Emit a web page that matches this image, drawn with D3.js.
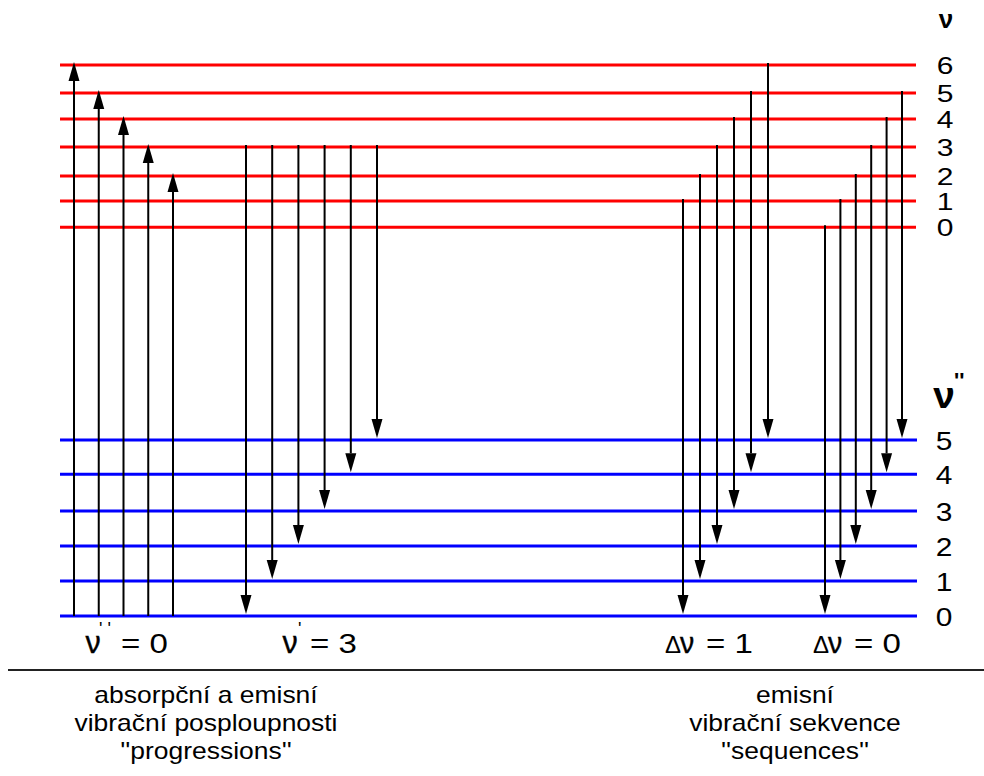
<!DOCTYPE html>
<html>
<head>
<meta charset="utf-8">
<script src="https://cdn.jsdelivr.net/npm/d3@7"></script>
<style>
  body { margin: 0; background: #fff; }
  text { font-family: "Liberation Sans", Arial, sans-serif; fill: #000; }
</style>
</head>
<body>
<script>
// vibrational levels, energy in arbitrary units
var upperLevels = [0, 1, 2, 3, 4, 5, 6];
var upperEnergy = [11.11, 11.86, 12.57, 13.40, 14.20, 14.94, 15.74];
var lowerLevels = [0, 1, 2, 3, 4, 5];
var lowerEnergy = [0, 1.0, 2.0, 3.0, 4.05, 5.03];

// transitions [v', v'']
var absorption = [[6, 0], [5, 0], [4, 0], [3, 0], [2, 0]];
var progression = [[3, 0], [3, 1], [3, 2], [3, 3], [3, 4], [3, 5]];
var seqDelta1 = [[1, 0], [2, 1], [3, 2], [4, 3], [5, 4], [6, 5]];
var seqDelta0 = [[0, 0], [1, 1], [2, 2], [3, 3], [4, 4], [5, 5]];

var captionLeft = ["absorpční a emisní", "vibrační posploupnosti", "''progressions''"];
var captionRight = ["emisní", "vibrační sekvence", "''sequences''"];

var width = 984, height = 776;

var svg = d3.select('body').append('svg')
	.attr('width', width)
	.attr('height', height);

var y = d3.scaleLinear().domain([0, 16]).range([616, 56]);
var yUp = function (v) { return y(upperEnergy[upperLevels.indexOf(v)]); };
var yLo = function (v) { return y(lowerEnergy[lowerLevels.indexOf(v)]); };

var x0 = 60, x1 = 916;

// level lines
svg.selectAll('.upper')
	.data(upperLevels)
	.enter().append('line')
	.attr('x1', x0).attr('x2', x1)
	.attr('y1', yUp).attr('y2', yUp)
	.attr('stroke', '#ff0000').attr('stroke-width', 3);

svg.selectAll('.lower')
	.data(lowerLevels)
	.enter().append('line')
	.attr('x1', x0).attr('x2', x1 + 1)
	.attr('y1', yLo).attr('y2', yLo)
	.attr('stroke', '#0000ff').attr('stroke-width', 3);

function txt(g, x, yy, s, size, sx, anchor, weight) {
	return g.append('text')
		.attr('transform', 'translate(' + x + ',' + yy + ') scale(' + sx + ',1)')
		.attr('font-size', size)
		.attr('font-weight', weight || 'normal')
		.attr('text-anchor', anchor || 'start')
		.text(s);
}

// level numbers
upperLevels.forEach(function (v) { txt(svg, 945, yUp(v) + 9, v, 24, 1.25, 'middle'); });
lowerLevels.forEach(function (v) { txt(svg, 944, yLo(v) + 10, v, 26, 1.15, 'middle'); });

txt(svg, 946, 28, 'ν', 26, 1, 'middle', 'bold');
txt(svg, 944, 408, 'ν', 37, 1.05, 'middle', 'bold');
txt(svg, 954, 388, "''", 22, 1, 'start', 'bold');

// arrows
var headLen = 19, headW = 5.5;

function drawArrows(data, xs, up) {
	var g = svg.append('g');
	data.forEach(function (d) {
		var xx = xs(up ? d[0] : d[1]);
		var top = yUp(d[0]), bot = yLo(d[1]);
		var tip, base, start;
		if (up) {
			tip = top - 3; base = tip + headLen; start = bot;
		} else {
			tip = bot - 2; base = tip - headLen; start = top - 2;
		}
		g.append('line')
			.attr('x1', xx).attr('x2', xx)
			.attr('y1', start).attr('y2', base)
			.attr('stroke', '#000').attr('stroke-width', 2);
		g.append('path')
			.attr('d', 'M' + xx + ',' + tip + 'L' + (xx - headW) + ',' + base + 'L' + (xx + headW) + ',' + base + 'Z')
			.attr('fill', '#000');
	});
}

drawArrows(absorption, d3.scalePoint().domain([6, 5, 4, 3, 2]).range([74, 173]), true);
drawArrows(progression, d3.scalePoint().domain([0, 1, 2, 3, 4, 5]).range([246, 377]), false);
drawArrows(seqDelta1, d3.scalePoint().domain([0, 1, 2, 3, 4, 5]).range([683, 768]), false);
drawArrows(seqDelta0, d3.scalePoint().domain([0, 1, 2, 3, 4, 5]).range([825, 902]), false);

// group labels
var lb = svg.append('g');
txt(lb, 93, 653, 'ν', 32, 0.95, 'middle').attr('stroke', '#000').attr('stroke-width', 0.4);
txt(lb, 99, 635, "' '", 18, 1, 'start');
txt(lb, 121, 653, '= 0', 28, 1.18, 'start');

txt(lb, 290, 653, 'ν', 32, 0.95, 'middle').attr('stroke', '#000').attr('stroke-width', 0.4);
txt(lb, 298, 635, "'", 18, 1, 'start');
txt(lb, 310, 653, '= 3', 28, 1.18, 'start');

txt(lb, 665, 653, 'Δ', 24, 1.0, 'start');
txt(lb, 687, 653, 'ν', 30, 0.95, 'middle').attr('stroke', '#000').attr('stroke-width', 0.4);
txt(lb, 706, 653, '= 1', 28, 1.18, 'start');

txt(lb, 813, 653, 'Δ', 24, 1.0, 'start');
txt(lb, 835, 653, 'ν', 30, 0.95, 'middle').attr('stroke', '#000').attr('stroke-width', 0.4);
txt(lb, 854, 653, '= 0', 28, 1.18, 'start');

// separator
svg.append('line')
	.attr('x1', 8).attr('x2', width)
	.attr('y1', 670).attr('y2', 670)
	.attr('stroke', '#222').attr('stroke-width', 2);

// captions
captionLeft.forEach(function (s, i) { txt(svg, 206, 703 + i * 28, s, 23, 1.15, 'middle'); });
captionRight.forEach(function (s, i) { txt(svg, 795, 703 + i * 28, s, 23, 1.15, 'middle'); });
</script>
</body>
</html>
